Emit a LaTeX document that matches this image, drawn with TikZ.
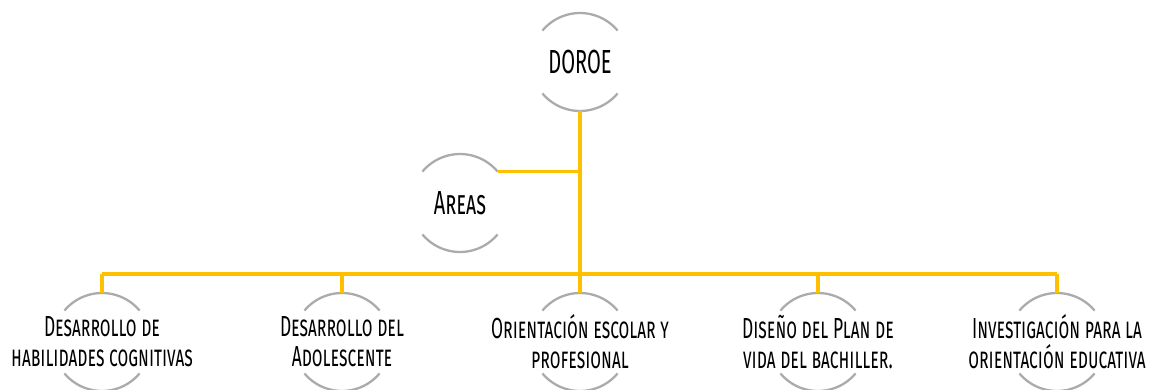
\documentclass[tikz,border=0pt]{standalone}
\usepackage{fontspec}
\setmainfont{Fira Sans}[FakeStretch=0.6]
\usetikzlibrary{positioning}
\definecolor{gold}{HTML}{FFC000}
\definecolor{rimgray}{HTML}{ABABAB}

\begin{document}
\begin{tikzpicture}[x=0.02cm,y=0.02cm,
  bubble/.style={circle,minimum size=1.96cm,inner sep=0pt,outer sep=0pt},
  big/.style={font=\fontsize{19}{22}\selectfont\scshape},
  small/.style={align=center,font=\fontsize{16.5}{17}\selectfont\scshape},
  link/.style={draw=gold,line width=2pt},
  rim/.style={draw=rimgray,line width=1.3pt}]
  \useasboundingbox (0,0) rectangle (1150,-389);
  \node[bubble,big] (R) at (580,-62) {DOROE};
  \node[bubble,big] (S) at (460,-203) {Areas};
  \node[bubble,label={[small]center:Desarrollo de\\habilidades cognitivas}] (C1) at (102,-342) {};
  \node[bubble,label={[small]center:Desarrollo del\\Adolescente}] (C2) at (342,-342) {};
  \node[bubble,label={[small]center:Orientación escolar y\\profesional}] (C3) at (580,-342) {};
  \node[bubble,label={[small]center:Diseño del Plan de\\vida del bachiller.}] (C4) at (818,-342) {};
  \node[bubble,label={[small]center:Investigación para la\\orientación educativa}] (C5) at (1057,-342) {};
  \coordinate (hub) at (580,-274);
  % arcs round the bubbles
  \foreach \n in {R,S,C1,C2,C3,C4,C5}
    \draw[rim] (\n.40) arc[start angle=40,end angle=140,radius=49]
               (\n.220) arc[start angle=220,end angle=320,radius=49];
  \draw[link] (R.south) -- (hub);
  \draw[link] (S.40) -- (S.40 -| R.south);
  \draw[link] (C1.north |- hub) -- (C5.north |- hub);
  \foreach \n in {C1,C2,C3,C4,C5}
    \draw[link] (\n.north |- hub) -- (\n.north);
\end{tikzpicture}
\end{document}
